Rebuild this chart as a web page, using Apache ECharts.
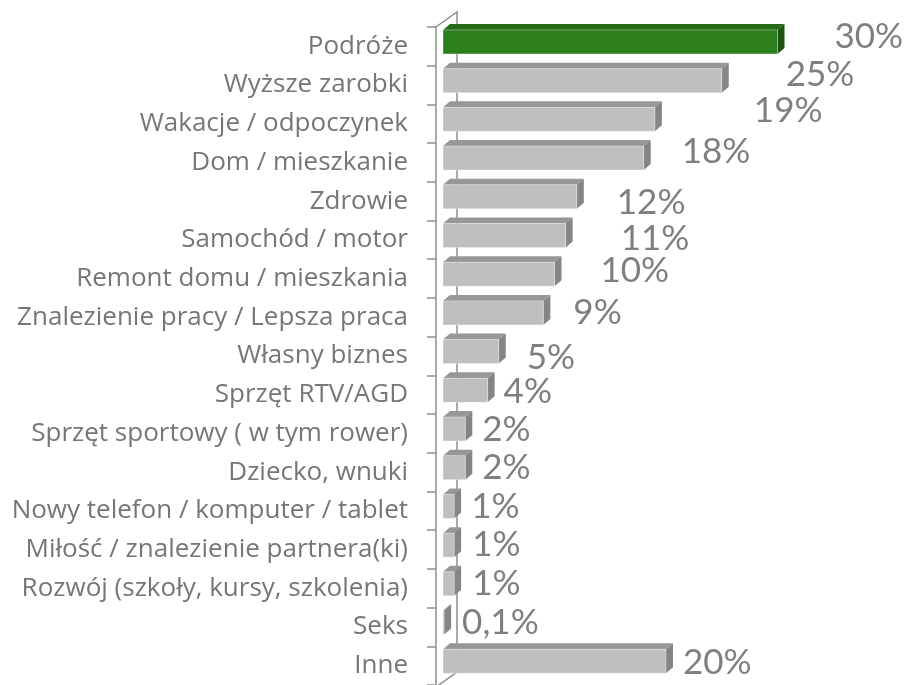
<!DOCTYPE html>
<html>
<head>
<meta charset="utf-8">
<script src="https://cdn.jsdelivr.net/npm/echarts@6/dist/echarts.min.js"></script>
<style>
html, body { margin: 0; padding: 0; background: #fff; }
#chart { width: 910px; height: 685px; }
</style>
</head>
<body>
<div id="chart"></div>
<script>
// kategorie (od góry)
var categories = [
   'Podróże',
   'Wyższe zarobki',
   'Wakacje / odpoczynek',
   'Dom / mieszkanie',
   'Zdrowie',
   'Samochód / motor',
   'Remont domu / mieszkania',
   'Znalezienie pracy / Lepsza praca',
   'Własny biznes',
   'Sprzęt RTV/AGD',
   'Sprzęt sportowy ( w tym rower)',
   'Dziecko, wnuki',
   'Nowy telefon / komputer / tablet',
   'Miłość / znalezienie partnera(ki)',
   'Rozwój (szkoły, kursy, szkolenia)',
   'Seks',
   'Inne'
];
// procenty
var values = [30, 25, 19, 18, 12, 11, 10, 9, 5, 4, 2, 2, 1, 1, 1, 0.1, 20];
var highlightIndex = 0;

// przesunięcia etykiet (jak w oryginale z Excela)
var labelGap = [57, 64, 99, 38, 40, 55, 46, 30, 28, 16, 17, 17, 17, 18, 18, 18, 17];
var labelDy = [-5.5, -6, -9, -6.5, 6, 3.5, -3.5, 0, 6.5, 1.5, 1, 0, 0, 0, 0, 0, 1.5];

var barDepthX = 7, barDepthY = -6;   // głębokość słupka 3D
var barShiftX = 7, barShiftY = -4.4; // słupek w środku "ściany"
var barH = 24;

var greenCol = ['#2c7f1d', '#246b17', '#1c5410'];
var grayCol = ['#bfbfbf', '#979797', '#858585'];

function fmt(v) {
   return String(v).replace('.', ',') + '%';
}

function renderBar(params, api) {
   var i = params.dataIndex;
   var v = api.value(0);
   var p0 = api.coord([0, api.value(1)]);
   var p1 = api.coord([v, api.value(1)]);
   var x0 = p0[0] + barShiftX;
   var x1 = p1[0] + barShiftX;
   var yc = p0[1] + barShiftY;
   var yt = yc - barH / 2, yb = yc + barH / 2;
   var c = i === highlightIndex ? greenCol : grayCol;
   var dx = barDepthX, dy = barDepthY;
   return {
      type: 'group',
      children: [
         {
            type: 'polygon',
            shape: { points: [[x0, yt], [x0 + dx, yt + dy], [x1 + dx, yt + dy], [x1, yt]] },
            style: { fill: c[1] }
         },
         {
            type: 'polygon',
            shape: { points: [[x1, yt], [x1 + dx, yt + dy], [x1 + dx, yb + dy], [x1, yb]] },
            style: { fill: c[2] }
         },
         {
            type: 'rect',
            shape: { x: x0, y: yt, width: Math.max(x1 - x0, 0.8), height: barH },
            style: { fill: c[0], stroke: 'rgba(255,255,255,0.35)', lineWidth: 1 }
         },
         {
            type: 'text',
            style: {
               text: fmt(v),
               x: x1 + labelGap[i],
               y: yc + labelDy[i],
               fill: '#7f7f7f',
               fontSize: 35,
               fontFamily: 'Lato',
               align: 'left',
               verticalAlign: 'middle'
            }
         }
      ]
   };
}

var chart = echarts.init(document.getElementById('chart'));

var option = {
   animation: false,
   grid: {
      left: 436,
      right: 28,
      top: 27,
      height: 660
   },
   xAxis: {
      type: 'value',
      min: 0,
      max: 40,
      show: false
   },
   yAxis: {
      type: 'category',
      inverse: true,
      data: categories,
      axisLine: { show: true, lineStyle: { color: '#8e8e8e', width: 1.5 } },
      axisTick: { show: true, length: 9, lineStyle: { color: '#8e8e8e', width: 1.5 } },
      axisLabel: {
         margin: 28,
         color: '#767676',
         fontSize: 26,
         fontFamily: 'Open Sans'
      },
      splitLine: { show: false }
   },
   series: [{
      type: 'custom',
      clip: false,
      z: 3,
      renderItem: renderBar,
      encode: { x: 0, y: 1 },
      data: values.map(function (v, i) { return [v, i]; })
   }]
};
chart.setOption(option);

// tylna ściana osi 3D
var ft = chart.convertToPixel({ gridIndex: 0 }, [0, 0]);
var gridTop = 27, gridBottom = 27 + 660;
var fx = ft[0];
var wx = 21, wy = -15;
chart.setOption({
   graphic: [{
      type: 'polyline',
      z: 1,
      shape: { points: [[fx, gridTop], [fx + wx, gridTop + wy], [fx + wx, gridBottom + wy], [fx, gridBottom]] },
      style: { stroke: '#8e8e8e', lineWidth: 1.5, fill: null }
   }]
});
</script>
</body>
</html>
